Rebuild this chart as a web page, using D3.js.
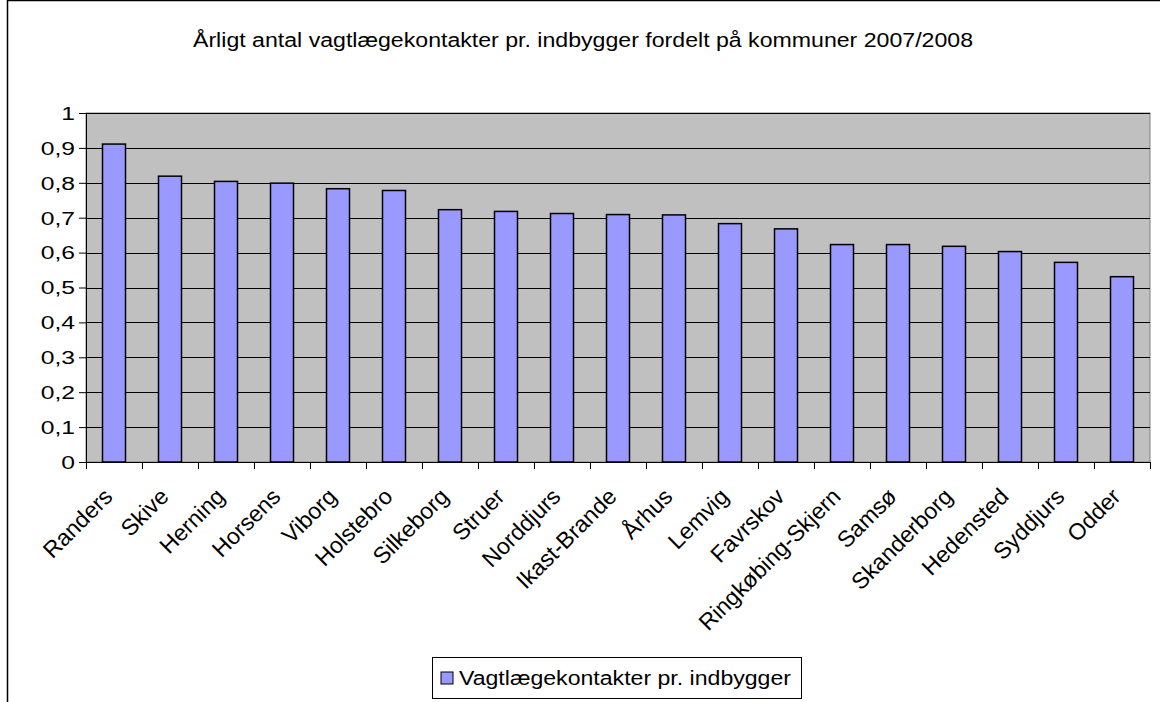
<!DOCTYPE html>
<html><head><meta charset="utf-8">
<script src="https://cdn.jsdelivr.net/npm/d3@7"></script>
<style>body{margin:0;background:#fff}svg{display:block}text{font-family:"Liberation Sans",Arial,sans-serif;fill:#000}</style>
</head><body>
<script>
const categories = ["Randers","Skive","Herning","Horsens","Viborg","Holstebro","Silkeborg","Struer","Norddjurs","Ikast-Brande","Århus","Lemvig","Favrskov","Ringkøbing-Skjern","Samsø","Skanderborg","Hedensted","Syddjurs","Odder"];
const values = [0.911,0.819,0.804,0.799,0.783,0.778,0.723,0.718,0.712,0.709,0.708,0.683,0.668,0.623,0.623,0.618,0.603,0.572,0.531];
const yTicks = [0,0.1,0.2,0.3,0.4,0.5,0.6,0.7,0.8,0.9,1];
const title = "Årligt antal vagtlægekontakter pr. indbygger fordelt på kommuner 2007/2008";
const seriesName = "Vagtlægekontakter pr. indbygger";

const W=1160,H=702;
const svg=d3.select("body").append("svg").attr("width",W).attr("height",H);
svg.append("rect").attr("x",7.5).attr("y",0.5).attr("width",W).attr("height",H+5).attr("fill","#fff").attr("stroke","#000").attr("stroke-width",1.5);

const L=86,R=1150,T=113,B=462;
const xb=d3.scaleBand().domain(categories).range([L,R]);
const y=d3.scaleLinear().domain([0,1]).range([B,T]);

svg.append("rect").attr("x",L).attr("y",T).attr("width",R-L).attr("height",B-T).attr("fill","#C0C0C0").attr("stroke","#808080");
svg.append("g").selectAll("line").data(yTicks.slice(1)).join("line")
  .attr("x1",L).attr("x2",R).attr("y1",d=>Math.round(y(d))+0.5).attr("y2",d=>Math.round(y(d))+0.5).attr("stroke","#000").attr("stroke-width",1);

svg.append("g").selectAll("rect").data(values).join("rect")
  .attr("x",(d,i)=>xb(categories[i])+xb.bandwidth()/2-11.5).attr("width",23)
  .attr("y",d=>y(d)).attr("height",d=>B-y(d))
  .attr("fill","#9999FF").attr("stroke","#000").attr("stroke-width",1.5);

// y axis
const ya=svg.append("g").attr("transform",`translate(${L},0)`)
  .call(d3.axisLeft(y).tickValues(yTicks).tickSize(7).tickFormat(""));
ya.select(".domain").attr("stroke","#000");
ya.selectAll(".tick line").attr("stroke","#000");
svg.append("g").selectAll("text").data(yTicks).join("text")
  .attr("transform",d=>`translate(75,${y(d)}) scale(1.3,1)`)
  .attr("text-anchor","end").attr("dy","0.36em").style("font-size","19px")
  .text(d=>String(d).replace(".",","));

// x axis
const xa=svg.append("g").attr("transform",`translate(0,${B})`);
xa.append("line").attr("x1",L).attr("x2",R).attr("y1",0.5).attr("y2",0.5).attr("stroke","#000");
const bounds=categories.map(c=>xb(c)).concat([R]);
xa.selectAll("line.t").data(bounds).join("line").attr("class","t")
  .attr("x1",d=>d+0.5).attr("x2",d=>d+0.5).attr("y1",0).attr("y2",7).attr("stroke","#000");
xa.selectAll("text").data(categories).join("text")
  .attr("transform",d=>`translate(${xb(d)+xb.bandwidth()/2},${36}) rotate(-45)`)
  .attr("text-anchor","end").style("font-size","23px").text(d=>d);

svg.append("text").attr("x",193).attr("y",47).attr("textLength",780).attr("lengthAdjust","spacingAndGlyphs").style("font-size","20px").text(title);

// legend
svg.append("rect").attr("x",432.5).attr("y",657.5).attr("width",369).attr("height",41).attr("fill","#fff").attr("stroke","#000");
svg.append("rect").attr("x",441).attr("y",672).attr("width",12).attr("height",12).attr("fill","#9999FF").attr("stroke","#000");
svg.append("text").attr("x",459).attr("y",685).attr("textLength",332).attr("lengthAdjust","spacingAndGlyphs").style("font-size","20px").text(seriesName);
</script>
</body></html>
